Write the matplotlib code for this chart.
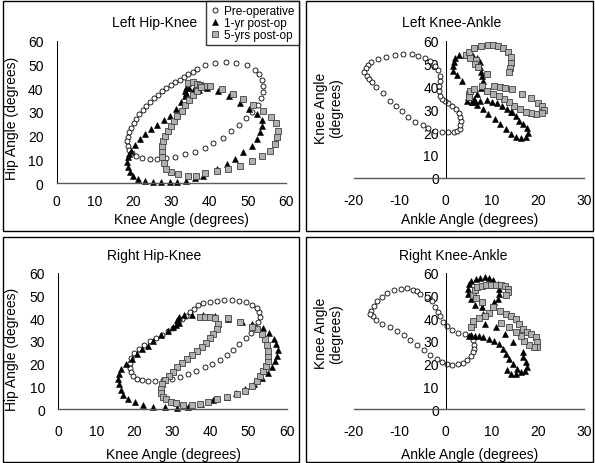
import matplotlib
matplotlib.use("Agg")
import matplotlib.pyplot as plt
from matplotlib.patches import Rectangle

plt.rcParams['font.family'] = ['Liberation Sans', 'DejaVu Sans']
plt.rcParams['axes.unicode_minus'] = False

# ---------------- data ----------------
# Left hip-knee
lhk_pre_x = [26.3, 28.5, 31.0, 33.6, 36.2, 38.7, 41.0, 43.4, 45.5, 47.6, 49.5, 51.2, 52.6, 53.4, 53.9,
             53.9, 53.6, 52.9, 51.8, 49.7, 47.0, 44.2, 41.4, 38.7, 36.8, 35.6, 34.4, 33.3, 32.2, 31.0,
             29.9, 28.7, 27.6, 26.5, 25.4, 24.4, 23.4, 22.5, 21.6, 20.8, 20.1, 19.5, 19.0, 18.7, 18.5,
             18.6, 19.0, 19.7, 20.8, 22.4, 24.3]
lhk_pre_y = [10.1, 10.4, 10.8, 12.2, 13.2, 14.9, 16.9, 18.8, 21.8, 24.4, 27.2, 30.0, 32.8, 35.7, 38.5,
             41.0, 43.5, 46.0, 47.8, 49.6, 50.6, 51.0, 50.7, 49.8, 48.0, 47.0, 46.0, 44.8, 43.6, 42.4,
             41.2, 39.9, 38.6, 37.2, 35.7, 34.1, 32.4, 30.7, 28.9, 27.0, 25.1, 23.2, 21.3, 19.4, 17.6,
             15.8, 14.1, 12.6, 11.4, 10.7, 10.3]
lhk_1yr_x = [33.9, 36.2, 38.3, 41.9, 44.5, 46.6, 48.8, 51.0, 52.3, 53.2, 53.6, 53.6, 52.3, 50.2, 47.9,
             45.2, 42.2, 39.4, 37.3, 35.8, 34.6, 33.9, 33.6, 33.9, 33.5, 32.6, 31.3, 29.6, 28.1, 26.3,
             24.7, 23.2, 21.7, 20.4, 19.5, 18.9, 18.6, 18.5, 18.65, 19.1, 20.0, 21.3, 23.0, 25.2, 27.4,
             29.6, 31.6]
lhk_1yr_y = [1.0, 2.0, 3.1, 5.9, 8.0, 10.1, 12.9, 15.7, 18.5, 21.4, 24.1, 26.5, 29.1, 31.2, 33.6,
             36.5, 38.9, 39.9, 39.2, 39.5, 40.2, 40.0, 38.9, 37.8, 36.8, 34.0, 31.2, 28.4, 26.5, 24.6,
             22.8, 20.6, 18.5, 16.1, 13.6, 12.2, 10.8, 8.7, 6.6, 4.5, 3.1, 1.7, 0.7, 0.3, 0.3,
             0.3, 0.5]
lhk_5yr_x = [34.4, 35.6, 36.6, 37.5, 38.5, 40.1, 43.2, 46.2, 48.8, 51.4, 54.0, 56.1, 57.4, 58.0, 57.7,
             57.1, 55.8, 53.6, 51.0, 48.0, 44.9, 41.9, 38.8, 36.5, 34.4, 31.7, 30.0, 28.7, 28.0, 27.6,
             27.5, 27.6, 27.8, 28.3, 29.0, 29.8, 30.7, 31.6, 32.7, 33.6, 34.7, 35.7, 36.8, 37.8]
lhk_5yr_y = [42.0, 42.4, 41.9, 41.3, 40.7, 41.0, 39.5, 37.7, 35.4, 32.7, 30.5, 27.8, 25.2, 22.0, 19.4,
             16.6, 13.7, 11.5, 9.4, 7.3, 5.9, 5.0, 4.3, 3.0, 2.9, 3.6, 4.6, 6.0, 8.5, 11.0,
             13.5, 15.7, 17.8, 19.9, 22.0, 24.2, 26.3, 28.4, 30.5, 32.9, 35.1, 36.9, 38.9, 40.3]

# Left knee-ankle
lka_pre_x = [-3.8, -2.3, -0.9, 0.5, 1.7, 2.5, 3.0, 3.2, 3.3, 3.1, 2.8, 2.2, 1.4, 0.6, -0.2,
             -0.9, -1.2, -1.4, -1.4, -1.2, -1.2, -1.6, -2.3, -3.4, -4.5, -6.0, -7.4, -9.3, -11.1, -12.9,
             -14.7, -16.2, -16.9, -17.4, -17.7, -17.2, -16.7, -16.0, -15.1, -13.7, -12.2, -10.9, -9.6, -8.2,
             -6.7, -4.9]
lka_pre_y = [21.6, 20.6, 20.1, 19.8, 19.8, 20.3, 21.5, 23.0, 24.8, 26.6, 28.4, 30.0, 31.5, 32.6, 33.6,
             34.6, 36.0, 38.1, 40.3, 42.5, 44.7, 47.3, 49.1, 51.2, 52.3, 53.4, 54.0, 54.0, 53.7, 52.7,
             52.0, 50.8, 49.4, 47.9, 46.2, 44.7, 43.2, 41.8, 39.6, 37.0, 33.7, 31.5, 29.3, 26.5,
             24.5, 23.1]
lka_1yr_x = [4.6, 4.9, 3.5, 2.4, 1.5, 1.5, 1.7, 2.0, 2.8, 4.2, 4.9, 6.0, 6.8, 7.4, 7.5,
             7.7, 7.9, 8.2, 7.6, 6.8, 6.2, 5.7, 6.4, 7.4, 9.0, 10.1, 11.2, 12.3, 13.3, 14.2,
             15.2, 15.9, 16.8, 17.6, 17.9, 17.4, 16.3, 15.2, 14.1, 13.0, 11.9, 10.8, 9.3, 8.0,
             6.8, 5.7, 14.5]
lka_1yr_y = [33.7, 35.2, 42.5, 45.0, 46.9, 48.8, 50.8, 52.3, 53.7, 53.7, 54.2, 53.2, 52.3, 50.5, 48.4,
             46.2, 44.5, 42.5, 39.5, 36.8, 34.5, 33.0, 33.4, 33.6, 34.0, 33.3, 32.6, 31.5, 30.1, 28.6,
             26.9, 25.0, 23.5, 21.6, 19.6, 17.7, 17.3, 17.7, 19.1, 21.3, 23.5, 25.7, 27.9, 30.0,
             31.8, 33.0, 28.6]
lka_5yr_x = [4.45, 5.0, 6.05, 7.65, 9.2, 10.3, 11.3, 12.5, 13.6, 14.1, 14.2, 13.9, 13.7, 5.3, 6.6,
             6.4, 7.0, 8.9, 5.0, 5.3, 6.1, 5.0, 7.9, 10.4, 11.7, 12.8, 14.5, 16.6, 18.5, 20.1,
             20.9, 21.3, 20.9, 19.7, 18.5, 17.4, 16.1, 14.8, 13.7, 12.6, 11.5, 10.3, 9.0]
lka_5yr_y = [53.7, 55.2, 56.7, 57.8, 58.3, 58.1, 57.6, 56.8, 55.2, 52.7, 50.2, 47.9, 46.4, 52.3, 51.7,
             50.0, 48.3, 45.6, 36.6, 38.1, 38.8, 35.2, 40.0, 40.0, 39.6, 39.1, 38.8, 36.6, 34.9, 32.6,
             31.2, 29.8, 28.5, 27.9, 28.2, 28.9, 30.1, 31.5, 33.0, 34.5, 35.6, 36.8, 37.8]

# Right hip-knee
rhk_pre_x = [21.9, 23.6, 25.4, 27.5, 29.8, 32.0, 34.2, 36.3, 38.5, 40.5, 42.5, 44.2, 46.0, 47.5, 49.3,
             50.5, 51.6, 52.5, 53.0, 52.7, 52.1, 51.0, 49.2, 47.5, 45.5, 43.6, 41.6, 39.8, 38.1, 36.8,
             35.6, 34.6, 33.6, 32.5, 31.4, 30.1, 28.7, 27.2, 25.6, 24.0, 22.5, 21.1, 20.0, 19.2, 18.8,
             18.8, 19.1, 19.7, 20.6]
rhk_pre_y = [12.7, 12.4, 12.4, 12.8, 13.5, 14.2, 15.7, 16.8, 18.6, 20.1, 21.8, 23.7, 25.9, 28.6, 31.4,
             33.7, 36.0, 38.5, 40.4, 42.6, 44.4, 45.8, 47.0, 47.7, 48.0, 48.1, 47.7, 47.3, 46.7, 45.6,
             44.2, 42.8, 41.2, 39.6, 37.8, 35.9, 34.2, 32.7, 31.2, 29.8, 28.3, 26.6, 24.7, 22.6, 20.4,
             18.3, 16.4, 14.7, 13.5]
rhk_1yr_x = [31.1, 34.2, 37.5, 40.7, 44.2, 46.6, 49.0, 51.4, 53.5, 55.0, 56.2, 56.9, 57.4, 57.6, 57.3,
             56.6, 55.4, 53.9, 51.0, 48.2, 44.7, 41.2, 38.0, 35.0, 33.0, 31.8, 31.3, 31.6, 31.0, 30.2,
             28.8, 27.1, 25.0, 23.5, 22.0, 20.6, 19.3, 17.8, 16.6, 16.0, 15.7, 15.9, 16.4, 17.1, 18.4,
             20.1, 22.3, 25.0, 28.0]
rhk_1yr_y = [0.6, 1.0, 2.3, 3.9, 5.4, 7.0, 9.0, 11.3, 13.6, 16.0, 18.5, 21.0, 23.5, 26.0, 28.5,
             31.0, 33.5, 35.8, 37.5, 38.5, 39.6, 40.9, 41.3, 41.5, 41.3, 40.5, 39.2, 38.0, 37.0, 36.2,
             34.3, 32.5, 30.0, 28.0, 26.3, 24.3, 22.3, 20.1, 17.8, 15.5, 13.2, 10.9, 8.5, 6.3, 4.5,
             3.0, 1.8, 1.2, 0.8]
rhk_5yr_x = [37.2, 38.5, 39.8, 41.2, 41.9, 41.6, 40.7, 39.8, 38.8, 37.7, 36.4, 35.2, 33.9, 32.6, 31.3,
             30.1, 29.0, 28.0, 27.2, 26.9, 27.0, 27.5, 28.3, 29.5, 31.0, 32.8, 35.0, 37.2, 39.4, 41.6,
             44.2, 46.9, 49.0, 51.0, 52.1, 53.0, 53.9, 54.5, 55.0, 55.2, 55.2, 54.7, 54.3, 53.4, 52.1,
             50.8, 47.7, 44.5]
rhk_5yr_y = [40.4, 40.4, 40.6, 40.0, 37.6, 35.4, 33.2, 31.2, 29.3, 27.5, 25.7, 23.8, 22.0, 20.2, 18.4,
             16.6, 14.8, 13.0, 11.0, 9.0, 7.2, 5.6, 4.4, 3.4, 2.6, 2.1, 2.0, 2.3, 3.1, 4.5,
             5.6, 6.7, 8.2, 10.4, 12.6, 14.5, 17.0, 19.1, 21.3, 23.5, 25.7, 28.2, 30.9, 33.1, 35.3,
             36.0, 38.2, 40.0]

# Right knee-ankle
rka_pre_x = [-16.3, -15.6, -15.0, -13.9, -12.7, -11.3, -9.8, -8.4, -7.2, -6.3, -5.5, -4.1, -3.0, -2.3, -1.7,
             -1.2, -0.5, 0.2, 1.3, 2.7, 4.2, 5.2, 6.0, 6.2, 6.2, 6.0, 5.5, 4.7, 3.8, 2.6,
             1.3, 0.2, -0.9, -1.9, -3.4, -4.8, -6.2, -7.7, -9.1, -10.6, -12.2, -13.9, -15.2, -15.9, -16.5]
rka_pre_y = [43.3, 45.5, 47.4, 49.3, 51.1, 52.3, 53.0, 53.1, 52.6, 51.8, 50.8, 49.3, 47.6, 44.9, 42.8,
             40.8, 38.4, 36.5, 34.7, 33.5, 32.9, 32.1, 30.3, 28.1, 26.5, 25.1, 23.4, 21.5, 20.3, 19.7,
             19.6, 20.0, 20.8, 22.0, 23.7, 25.9, 28.1, 30.3, 32.5, 34.4, 36.0, 37.5, 39.1, 40.8, 41.8]
rka_1yr_x = [4.9, 4.9, 5.1, 5.6, 6.5, 7.4, 8.5, 9.5, 10.3, 11.3, 11.5, 11.5, 11.3, 10.6, 5.4,
             6.3, 7.8, 8.1, 8.5, 11.0, 12.8, 14.6, 16.7, 5.0, 5.6, 6.3, 7.2, 8.1, 9.5, 10.6,
             11.5, 12.4, 13.1, 13.8, 14.6, 15.4, 16.4, 17.2, 17.6, 17.5, 16.8, 15.3, 14.2, 13.4]
rka_1yr_y = [50.5, 52.8, 55.0, 56.5, 57.2, 57.7, 58.0, 57.7, 56.8, 55.0, 52.8, 50.6, 48.4, 47.0, 48.4,
             45.7, 44.8, 41.9, 37.5, 36.3, 33.2, 29.6, 25.2, 32.2, 32.8, 32.3, 32.3, 31.9, 30.9, 29.8,
             28.7, 26.5, 24.3, 22.1, 19.9, 17.8, 16.4, 16.8, 18.6, 20.6, 22.8, 15.3, 15.4, 17.3]
rka_5yr_x = [5.9, 6.3, 6.7, 7.8, 8.8, 9.9, 11.0, 12.1, 12.9, 13.5, 13.5, 13.1, 10.3, 9.5, 8.5,
             7.2, 5.9, 5.6, 5.9, 6.5, 11.7, 13.1, 14.2, 15.3, 16.0, 16.7, 17.6, 18.5, 19.6, 19.9,
             19.9, 19.2, 18.2, 17.1, 16.4, 15.2, 13.8, 12.0, 7.8]
rka_5yr_y = [50.1, 52.3, 53.7, 54.3, 54.6, 54.8, 54.8, 54.7, 54.2, 53.0, 51.5, 50.0, 44.8, 42.2, 41.1,
             40.0, 37.5, 36.0, 38.8, 49.0, 43.3, 41.9, 41.1, 39.7, 37.5, 35.3, 34.0, 33.1, 31.6, 29.4,
             27.2, 27.2, 28.4, 30.1, 32.3, 34.0, 36.0, 38.0, 47.2]

series_labels = ['Pre-operative', '1-yr post-op', '5-yrs post-op']

# ---------------- layout ----------------
W, H = 595, 464
fig = plt.figure(figsize=(W / 100, H / 100), dpi=100)


def add_axes_px(left, right, top, bottom):
    return fig.add_axes([left / W, 1 - bottom / H, (right - left) / W, (bottom - top) / H])


def draw_panel(ax, xs, ys, xlim, xticks, xpad, ypad, yaxis_at_zero):
    styles = [
        dict(marker='o', ms=3.6, mfc='white', mec='black', mew=0.6),
        dict(marker='^', ms=4.2, mfc='black', mec='black', mew=0.4),
        dict(marker='s', ms=3.7, mfc='#b0b0b0', mec='#404040', mew=0.6),
    ]
    handles = []
    for x, y, st, lab in zip(xs, ys, styles, series_labels):
        h, = ax.plot(x, y, ls='none', clip_on=False, label=lab, **st)
        handles.append(h)
    ax.set_xlim(*xlim)
    ax.set_ylim(0, 60)
    ax.set_xticks(xticks)
    ax.set_yticks(range(0, 61, 10))
    ax.spines['top'].set_visible(False)
    ax.spines['right'].set_visible(False)
    ax.spines['bottom'].set_color('#595959')
    ax.spines['bottom'].set_linewidth(1.0)
    ax.spines['left'].set_color('black')
    ax.spines['left'].set_linewidth(0.75)
    if yaxis_at_zero:
        ax.spines['left'].set_position(('data', 0))
    ax.tick_params(axis='x', length=0, pad=xpad, labelsize=10)
    ax.tick_params(axis='y', length=0, pad=ypad, labelsize=10)
    ax.patch.set_alpha(0)
    return handles


ax1 = add_axes_px(56.7, 286.0, 41.7, 184.0)
handles = draw_panel(ax1, [lhk_pre_x, lhk_1yr_x, lhk_5yr_x], [lhk_pre_y, lhk_1yr_y, lhk_5yr_y],
                     (0, 60), range(0, 61, 10), 8, 9.5, False)
ax2 = add_axes_px(353.7, 583.7, 41.7, 178.7)
draw_panel(ax2, [lka_pre_x, lka_1yr_x, lka_5yr_x], [lka_pre_y, lka_1yr_y, lka_5yr_y],
           (-20, 30), range(-20, 31, 10), 11, 5, True)
ax3 = add_axes_px(58.3, 286.7, 273.7, 410.3)
draw_panel(ax3, [rhk_pre_x, rhk_1yr_x, rhk_5yr_x], [rhk_pre_y, rhk_1yr_y, rhk_5yr_y],
           (0, 60), range(0, 61, 10), 10.5, 9.5, False)
ax4 = add_axes_px(353.7, 583.7, 273.7, 410.3)
draw_panel(ax4, [rka_pre_x, rka_1yr_x, rka_5yr_x], [rka_pre_y, rka_1yr_y, rka_5yr_y],
           (-20, 30), range(-20, 31, 10), 10.5, 5, True)


def ftext(x, y, s, **kw):
    fig.text(x / W, 1 - y / H, s, ha='center', va='center', fontsize=10, **kw)


ftext(155, 23.3, 'Left Hip-Knee')
ftext(452, 23.3, 'Left Knee-Ankle')
ftext(154, 256.3, 'Right Hip-Knee')
ftext(453, 256.3, 'Right Knee-Ankle')
ftext(181, 220, 'Knee Angle (degrees)')
ftext(470, 220, 'Ankle Angle (degrees)')
ftext(173, 454.7, 'Knee Angle (degrees)')
ftext(470, 454.7, 'Ankle Angle (degrees)')
ftext(11.7, 118.3, 'Hip Angle (degrees)', rotation=90)
ftext(12, 349.7, 'Hip Angle (degrees)', rotation=90)
ftext(329, 108.3, 'Knee Angle\n(degrees)', rotation=90, linespacing=1.1)
ftext(329, 333.8, 'Knee Angle\n(degrees)', rotation=90, linespacing=1.1)

# panel frames
for (l, t, r, b) in [(2.5, 1.5, 298.5, 232), (306.5, 1.5, 592.5, 232),
                     (2.5, 238, 298.5, 462.5), (306.5, 238, 592.5, 462.5)]:
    fig.patches.append(Rectangle((l / W, 1 - b / H), (r - l) / W, (b - t) / H,
                                 transform=fig.transFigure, fill=False,
                                 edgecolor='black', linewidth=1.0))

leg = fig.legend(handles=handles, loc='upper right', bbox_to_anchor=(298.5 / W, 1 - 1.5 / H),
                 fontsize=8.5, frameon=True, fancybox=False, edgecolor='black',
                 borderpad=0.35, labelspacing=0.0, handlelength=0.8, handletextpad=0.4,
                 borderaxespad=0)
leg.get_frame().set_linewidth(1.0)

fig.savefig('out.png', dpi=100)
